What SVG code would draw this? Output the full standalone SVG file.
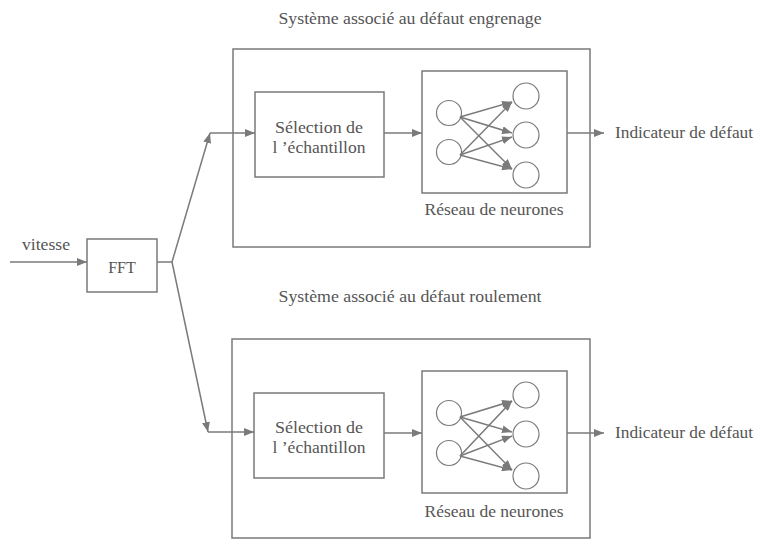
<svg xmlns="http://www.w3.org/2000/svg" width="759" height="547" viewBox="0 0 759 547" font-family="Liberation Serif, DejaVu Serif, serif">
<style>
.box{fill:none;stroke:#7a7a7a;stroke-width:1.5}
.ln{fill:none;stroke:#7a7a7a;stroke-width:1.5}
.c{fill:#fff;stroke:#7a7a7a;stroke-width:1.2}
text{font-family:"Liberation Serif",serif;font-size:16px;fill:#555}
.m{text-anchor:middle}
</style>
<defs>
<marker id="ah" viewBox="0 0 10 8" refX="10" refY="4" markerWidth="10" markerHeight="8" markerUnits="userSpaceOnUse" orient="auto">
<path d="M0,0 L10,4 L0,8 z" fill="#7a7a7a"/>
</marker>
</defs>
<rect width="759" height="547" fill="#fff"/>

<g id="input">
<text x="22" y="250" textLength="48" lengthAdjust="spacingAndGlyphs">vitesse</text>
</g>
<g id="fft">
<rect class="box" x="87" y="239" width="70" height="53"/>
<text class="m" x="122" y="273">FFT</text>
</g>

<g id="sys1">
<text class="m" x="410" y="24" textLength="263" lengthAdjust="spacingAndGlyphs">Système associé au défaut engrenage</text>
<rect class="box" x="233" y="49" width="357" height="198"/>
</g>
<g id="sel1">
<rect class="box" x="255" y="92" width="129" height="85"/>
<text class="m" x="319" y="133" textLength="88" lengthAdjust="spacingAndGlyphs">Sélection de</text>
<text class="m" x="319" y="153" textLength="93" lengthAdjust="spacingAndGlyphs">l ’échantillon</text>
</g>
<g id="nn1">
<rect class="box" x="422" y="71" width="145" height="122"/>
<circle class="c" cx="449" cy="113" r="12.5"/>
<circle class="c" cx="449" cy="152" r="12.5"/>
<circle class="c" cx="526" cy="96" r="13"/>
<circle class="c" cx="526" cy="135" r="13"/>
<circle class="c" cx="526" cy="175" r="13"/>
<g class="ln" stroke-width="1.2">
<line x1="460" y1="117" x2="512" y2="102" marker-end="url(#ah)"/>
<line x1="460" y1="117" x2="512" y2="133" marker-end="url(#ah)"/>
<line x1="460" y1="117" x2="512" y2="169" marker-end="url(#ah)"/>
<line x1="460" y1="155" x2="512" y2="102" marker-end="url(#ah)"/>
<line x1="460" y1="155" x2="512" y2="137" marker-end="url(#ah)"/>
<line x1="460" y1="155" x2="512" y2="169" marker-end="url(#ah)"/>
</g>
<text class="m" x="494" y="215" textLength="139" lengthAdjust="spacingAndGlyphs">Réseau de neurones</text>
</g>
<g id="out1">
<text x="615" y="138" textLength="138" lengthAdjust="spacingAndGlyphs">Indicateur de défaut</text>
</g>

<g id="sys2">
<text class="m" x="410" y="302" textLength="263" lengthAdjust="spacingAndGlyphs">Système associé au défaut roulement</text>
<rect class="box" x="232" y="339" width="358" height="199"/>
</g>
<g id="sel2">
<rect class="box" x="254" y="393" width="130" height="85"/>
<text class="m" x="319" y="433" textLength="88" lengthAdjust="spacingAndGlyphs">Sélection de</text>
<text class="m" x="319" y="453" textLength="93" lengthAdjust="spacingAndGlyphs">l ’échantillon</text>
</g>
<g id="nn2">
<rect class="box" x="422" y="371" width="145" height="122"/>
<circle class="c" cx="449" cy="413" r="12.5"/>
<circle class="c" cx="449" cy="453" r="12.5"/>
<circle class="c" cx="526" cy="395" r="13"/>
<circle class="c" cx="526" cy="434" r="13"/>
<circle class="c" cx="526" cy="476" r="13"/>
<g class="ln" stroke-width="1.2">
<line x1="460" y1="417" x2="512" y2="401" marker-end="url(#ah)"/>
<line x1="460" y1="417" x2="512" y2="432" marker-end="url(#ah)"/>
<line x1="460" y1="417" x2="512" y2="470" marker-end="url(#ah)"/>
<line x1="460" y1="456" x2="512" y2="401" marker-end="url(#ah)"/>
<line x1="460" y1="456" x2="512" y2="436" marker-end="url(#ah)"/>
<line x1="460" y1="456" x2="512" y2="470" marker-end="url(#ah)"/>
</g>
<text class="m" x="494" y="517" textLength="139" lengthAdjust="spacingAndGlyphs">Réseau de neurones</text>
</g>
<g id="out2">
<text x="615" y="438" textLength="138" lengthAdjust="spacingAndGlyphs">Indicateur de défaut</text>
</g>

<g id="connectors">
<line class="ln" x1="10" y1="262" x2="87" y2="262" marker-end="url(#ah)"/>
<line class="ln" x1="157" y1="262" x2="172" y2="262"/>
<line class="ln" x1="172" y1="262" x2="210" y2="133" marker-end="url(#ah)"/>
<line class="ln" x1="210" y1="133" x2="255" y2="133" marker-end="url(#ah)"/>
<line class="ln" x1="172" y1="262" x2="208" y2="432" marker-end="url(#ah)"/>
<line class="ln" x1="208" y1="432" x2="254" y2="432" marker-end="url(#ah)"/>
<line class="ln" x1="384" y1="133" x2="422" y2="133" marker-end="url(#ah)"/>
<line class="ln" x1="567" y1="133" x2="604" y2="133" marker-end="url(#ah)"/>
<line class="ln" x1="384" y1="433" x2="422" y2="433" marker-end="url(#ah)"/>
<line class="ln" x1="567" y1="433" x2="604" y2="433" marker-end="url(#ah)"/>
</g>
</svg>
